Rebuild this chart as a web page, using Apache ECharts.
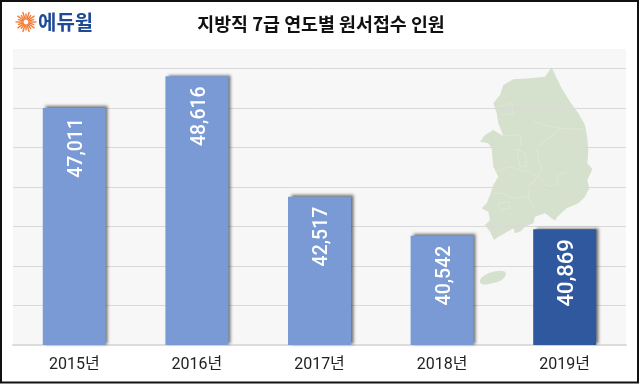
<!DOCTYPE html>
<html><head><meta charset="utf-8">
<style>html,body{margin:0;padding:0;background:#fff}#c{width:640px;height:385px}</style>
<script src="https://cdn.jsdelivr.net/npm/echarts@6/dist/echarts.min.js"></script>
</head><body><div id="c"></div>
<script>
const titleText = '지방직 7급 연도별 원서접수 인원';
const logoText = '에듀윌';
const categories = ['2015년','2016년','2017년','2018년','2019년'];
const applicants = [47011,48616,42517,40542,40869];
const gridTicks = [35000,37000,39000,41000,43000,45000,47000,49000];

// decorative map silhouette, traced in a 3x crop whose origin is (470,60)
const mainland = [[245,22],[258,50],[275,85],[300,125],[325,160],[345,195],[352,235],[355,270],[352,310],[367,328],[352,360],[358,385],[345,410],[325,430],[290,445],[262,470],[255,482],[225,460],[195,470],[190,490],[165,500],[150,515],[135,520],[130,505],[105,520],[85,530],[72,540],[60,515],[45,495],[60,480],[55,455],[35,445],[50,430],[62,400],[70,375],[85,350],[70,320],[65,265],[55,250],[30,245],[45,225],[70,210],[100,228],[85,190],[80,160],[70,130],[90,105],[100,75],[130,58],[180,55],[225,50]];
const jeju = [[30,660],[50,642],[95,632],[108,640],[95,660],[55,672],[35,672]];
const borders = [
 [[190,185],[225,195],[270,205],[340,208]],
 [[270,205],[230,240],[200,262],[205,300],[215,325],[205,350],[180,375],[175,410],[195,450]],
 [[205,350],[235,380],[260,375],[265,345],[290,335]],
 [[75,335],[120,320],[150,330],[175,335],[205,350]],
 [[66,400],[100,400],[130,415],[175,410]],
 [[85,430],[115,425],[118,445],[90,450],[85,430]],
 [[140,265],[165,280],[170,320],[150,320],[140,265]],
 [[100,228],[150,225],[155,255],[140,265]],
 [[85,140],[125,130],[130,160],[95,165]]
];
const toPx = p => [470 + p[0]/3, 60 + p[1]/3];
const mapFill = '#d5e1cd';

const rays = [];
for (let i = 0; i < 20; i++) {
  const a = i * Math.PI / 10, r = i % 2 ? 8.5 : 10.5;
  rays.push({type:'line', shape:{x1:26+2.5*Math.cos(a), y1:22+2.5*Math.sin(a), x2:26+r*Math.cos(a), y2:22+r*Math.sin(a)},
    style:{stroke:'#f47b36', lineWidth:1.4}, z:5});
}

const barData = applicants.map((v,i) => {
  const last = i === applicants.length-1;
  return {
    value: v,
    itemStyle: {color: last ? '#30589f' : '#7a9ad6'},
    label: {fontSize: last ? 22 : 19.5}
  };
});

const chart = echarts.init(document.getElementById('c'), null, {renderer:'canvas'});
chart.setOption({
  animation:false,
  backgroundColor:'#fff',
  title:{text:titleText,left:316,top:10,textAlign:'center',
    textStyle:{fontFamily:'"Noto Sans CJK KR"',fontSize:18.4,fontWeight:'bold',color:'#111'}},
  grid:{left:13,right:14,top:49,bottom:40,containLabel:false},
  xAxis:{type:'category',data:categories,
    axisLine:{show:true,lineStyle:{color:'#dcdcdc',width:2}},axisTick:{show:false},
    axisLabel:{margin:12,fontSize:16,color:'#222',fontFamily:'Roboto,"Noto Sans CJK KR"'}},
  yAxis:{type:'value',min:35000,max:50000,
    axisLine:{show:false},axisTick:{show:false,customValues:gridTicks},
    axisLabel:{show:false,customValues:gridTicks},
    splitLine:{show:true,lineStyle:{color:'#d9d9d9',width:1}}},
  series:[{type:'bar',data:barData,barWidth:63,
    itemStyle:{borderWidth:0,shadowColor:'rgba(0,0,0,0.55)',shadowBlur:3,shadowOffsetX:2.5,shadowOffsetY:-1.5},
    label:{show:true,rotate:90,position:'insideTop',distance:10,offset:[0,3],color:'#fff',fontWeight:500,
      fontFamily:'Roboto,"Liberation Sans",sans-serif',
      align:'right',verticalAlign:'middle',
      formatter:p=>p.value.toLocaleString('en-US')}
  }],
  graphic:[
    {type:'rect',shape:{x:13,y:49,width:613,height:296},style:{fill:'#f7f7f7'},z:-3,silent:true},
    {type:'polygon',shape:{points:mainland.map(toPx)},style:{fill:mapFill},z:-2,silent:true},
    {type:'polygon',shape:{points:jeju.map(toPx),smooth:0.4},style:{fill:mapFill},z:-2,silent:true},
    ...borders.map(b=>({type:'polyline',shape:{points:b.map(toPx)},style:{stroke:'#e2eadd',lineWidth:0.6,fill:null},z:-1,silent:true})),
    {type:'rect',shape:{x:1,y:1,width:637,height:381.5},style:{fill:'none',stroke:'#111',lineWidth:2},z:10,silent:true},
    ...rays,
    {type:'text',style:{x:38,y:22,text:logoText,fill:'#1f4a98',font:'bold 20px "Noto Sans CJK KR"',verticalAlign:'middle'},z:5,silent:true}
  ]
});
</script></body></html>
